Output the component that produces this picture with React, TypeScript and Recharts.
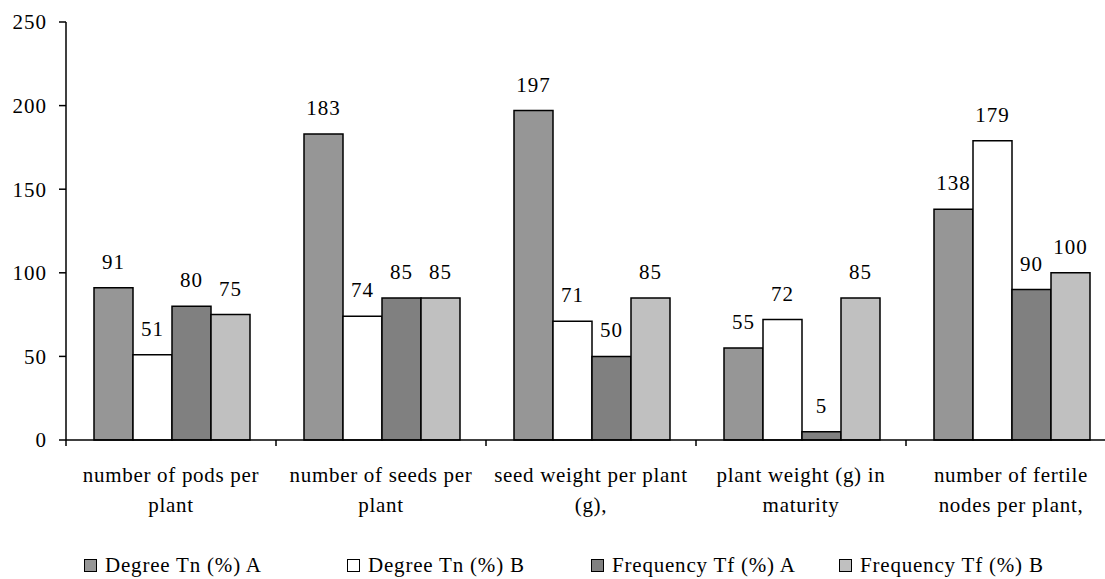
import React from "react";
import { BarChart, Bar, XAxis, YAxis, LabelList } from "recharts";

const categories = [
  "number of pods per\nplant",
  "number of seeds per\nplant",
  "seed weight per plant\n(g),",
  "plant weight (g) in\nmaturity",
  "number of fertile\nnodes per plant,",
];
const degreeA = [91, 183, 197, 55, 138];
const degreeB = [51, 74, 71, 72, 179];
const freqA = [80, 85, 50, 5, 90];
const freqB = [75, 85, 85, 85, 100];
const yTicks = [0, 50, 100, 150, 200, 250];

const seriesNames = ["Degree Tn (%) A", "Degree Tn (%) B", "Frequency Tf (%) A", "Frequency Tf (%) B"];
const seriesKeys = ["dA", "dB", "fA", "fB"];
const seriesColors = ["#969696", "#ffffff", "#808080", "#c0c0c0"];

const data = categories.map((c, i) => ({
  name: c,
  dA: degreeA[i],
  dB: degreeB[i],
  fA: freqA[i],
  fB: freqB[i],
}));

const FONT = "Liberation Serif";
const legendLefts = [84, 347, 591, 839];

const CatTick = (props: any) => {
  const { x, y, payload, width, visibleTicksCount, index } = props;
  const half = payload && payload.offset ? payload.offset : width / visibleTicksCount / 2;
  const lines = String(payload.value).split("\n");
  return (
    <g>
      {index === 0 && <line x1={x - half} x2={x - half} y1={y} y2={y + 6} stroke="#000" strokeWidth={1.5} />}
      <line x1={x + half} x2={x + half} y1={y} y2={y + 6} stroke="#000" strokeWidth={1.5} />
      {lines.map((l, i) => (
        <text
          key={i}
          x={x}
          y={y + 42 + i * 30}
          textAnchor="middle"
          fontFamily={FONT}
          fontSize={21}
          letterSpacing={0.7}
          fill="#000"
        >
          {l}
        </text>
      ))}
    </g>
  );
};

export default function App() {
  return (
    <div style={{ position: "absolute", left: 0, top: 0, width: 1105, height: 579, overflow: "hidden", background: "#fff" }}>
      <BarChart
        width={1120}
        height={579}
        data={data}
        margin={{ top: 22, right: 4, bottom: 0, left: 0 }}
        barGap={0}
        barCategoryGap={28}
      >
        <XAxis
          dataKey="name"
          tick={<CatTick />}
          tickLine={false}
          tickSize={0}
          tickMargin={0}
          height={139}
          axisLine={{ stroke: "#000", strokeWidth: 1.5 }}
          interval={0}
        />
        <YAxis
          domain={[0, 250]}
          ticks={yTicks}
          width={66}
          tickSize={7}
          tickMargin={12}
          axisLine={{ stroke: "#000", strokeWidth: 1.5 }}
          tickLine={{ stroke: "#000", strokeWidth: 1.5 }}
          tick={{ fill: "#000", fontFamily: FONT, fontSize: 21, letterSpacing: 1 }}
        />
        {seriesKeys.map((k, i) => (
          <Bar key={k} dataKey={k} name={seriesNames[i]} fill={seriesColors[i]} stroke="#000" strokeWidth={1.5} isAnimationActive={false}>
            <LabelList dataKey={k} position="top" offset={19} fill="#000" fontFamily={FONT} fontSize={21} letterSpacing={1} />
          </Bar>
        ))}
      </BarChart>
      {seriesNames.map((n, i) => (
        <div
          key={n}
          style={{
            position: "absolute",
            left: legendLefts[i],
            top: 555,
            height: 20,
            lineHeight: "20px",
            display: "flex",
            alignItems: "center",
            fontFamily: FONT,
            fontSize: 21,
            letterSpacing: 0.8,
            whiteSpace: "nowrap",
          }}
        >
          <span
            style={{
              display: "inline-block",
              width: 11,
              height: 11,
              background: seriesColors[i],
              border: "1.5px solid #000",
              marginRight: 8,
            }}
          />
          <span>{n}</span>
        </div>
      ))}
    </div>
  );
}
